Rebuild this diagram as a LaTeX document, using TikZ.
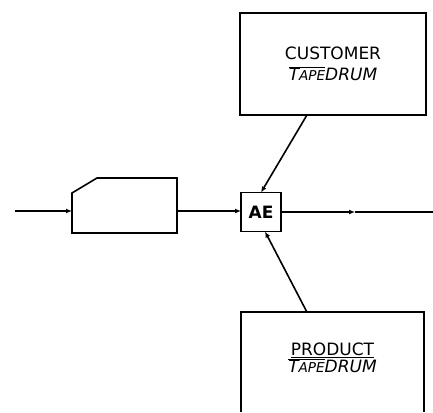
\documentclass[tikz,border=0pt]{standalone}
\usepackage{fontspec}
\setmainfont{DejaVu Sans}
\usetikzlibrary{arrows.meta, positioning, calc}

\newcommand{\tdrum}{\textit{$\overline{\hbox{\textit{T\scalebox{0.8}{APE}}}}$DRUM}}

\begin{document}
\begin{tikzpicture}[
  x=1pt, y=-1pt,
  every node/.style={font=\fontsize{17}{19}\selectfont},
  box/.style={minimum width=#1, inner sep=0pt, outer sep=0pt},
  tape/.style={draw, line width=1.6pt, box=186pt, minimum height=102pt, align=center},
  ae/.style={draw, line width=1.6pt, box=40pt, minimum height=39pt, font=\fontsize{17}{19}\selectfont\bfseries},
  arr/.style={-{Latex[length=6pt, width=5pt]}, line width=1.6pt},
  line/.style={line width=1.6pt},
]
  \useasboundingbox (0,0) rectangle (433,412);

  \node[ae] (ae) at (261,212) {AE};
  \node[tape] (cust) at (333,64) {CUSTOMER\\[2pt]\tdrum};
  \node[box=183pt, minimum height=100pt] (prod) at (332.5,362) {};
  \node[align=center] (prodtxt) at ($(prod.center)+(0,-4)$) {\underline{PRODUCT}\\[-2pt]\tdrum};
  \node[box=105pt, minimum height=55pt] (card) at (124.5,205.5) {};

  \coordinate (in) at (15,211);
  \coordinate (mid) at (355,212);
  \coordinate (out) at (433,212);

  % card with cut corner
  \draw[line] (card.south west) -- ($(card.north west)+(0,15)$) -- ($(card.north west)+(25,0)$)
    -- (card.north east) -- (card.south east) -- cycle;
  % product box runs off the page
  \draw[line] (prod.south west) -- (prod.north west) -- (prod.north east) -- (prod.south east);

  \draw[arr] (in) -- (in -| card.west);
  \draw[arr] (card.east |- in) -- (in -| ae.west);
  \draw[arr] (ae.east) -- (mid);
  \draw[line] (mid) -- (out);
  \draw[arr] ($(cust.south west)!0.36!(cust.south east)$) -- (ae.north);
  \draw[arr] ($(prod.north west)!0.36!(prod.north east)$) -- ($(ae.south)+(4,0)$);
\end{tikzpicture}
\end{document}
